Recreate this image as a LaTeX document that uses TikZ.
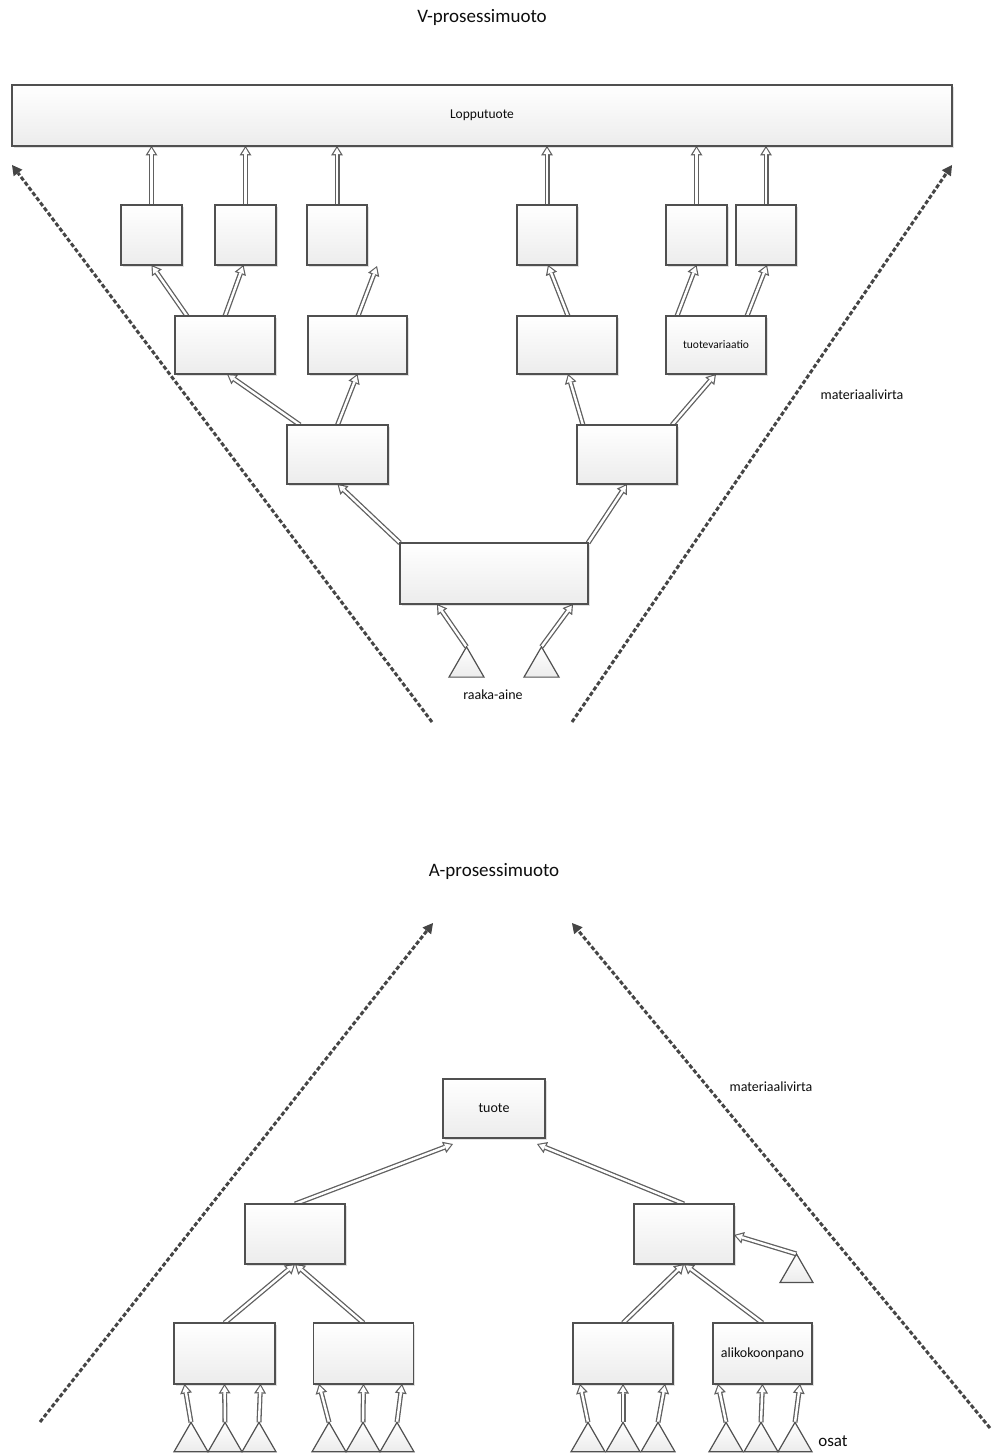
\documentclass[tikz,border=0pt]{standalone}
\usepackage{fontspec}
\setmainfont{Carlito}
\usetikzlibrary{arrows.meta,shapes.geometric,shadows,backgrounds}
\definecolor{edgegray}{HTML}{505050}
\definecolor{linkgray}{HTML}{606060}
\definecolor{flowgray}{HTML}{454545}
\definecolor{fillbot}{HTML}{ECECEC}
\definecolor{txt}{HTML}{0D0D0D}
\tikzset{
  box/.style 2 args={draw=edgegray, line width=1.4pt, top color=white, bottom color=fillbot,
    minimum width=#1pt, minimum height=#2pt, inner sep=0pt, outer sep=0pt,
    drop shadow={shadow xshift=1.8pt, shadow yshift=-1.8pt, fill=black, opacity=0.12},
    font=\fontsize{14}{16}\selectfont, text=txt},
  src/.style={regular polygon, regular polygon sides=3, minimum size=#1pt,
    draw=edgegray, line width=1.2pt, top color=white, bottom color=fillbot,
    inner sep=0pt, outer sep=0pt},
  heading/.style={font=\fontsize{19}{22}\selectfont, text=txt, inner sep=0pt},
  lbl/.style={font=\fontsize{14}{16}\selectfont, text=txt, inner sep=0pt},
  link/.style={draw=linkgray, line width=5pt,
    -{Triangle[length=9.5pt,width=12pt,line width=0pt]},
    postaction={draw=white, line width=2.4pt,
      -{Triangle[length=6.2pt,width=7.4pt,line width=0pt]}, shorten >=2pt}},
  flow/.style={draw=flowgray, line width=3pt, dash pattern=on 4.2pt off 2.2pt,
    -{Triangle[length=10pt,width=11pt,line width=0pt]}},
}
\begin{document}
\begin{tikzpicture}[x=1pt,y=-1pt]
\useasboundingbox (0,0) rectangle (992,1455);

% ---------------- V-shaped process ----------------
\node[heading] (vtitle) at (482,17) {V-prosessimuoto};
\node[box={940}{61}, font=\fontsize{13.5}{15}\selectfont] (lop) at (482,115.5) {Lopputuote};

\node[box={61}{60}] (r1a) at (151.5,235) {};
\node[box={61}{60}] (r1b) at (245.5,235) {};
\node[box={60}{60}] (r1c) at (337,235) {};
\node[box={60}{60}] (r1d) at (547,235) {};
\node[box={61}{60}] (r1e) at (696.5,235) {};
\node[box={60}{60}] (r1f) at (766,235) {};

\node[box={100}{58}] (r2a) at (225,345) {};
\node[box={99}{58}]  (r2b) at (357.5,345) {};
\node[box={100}{58}] (r2c) at (567,345) {};
\node[box={100}{58}, font=\fontsize{11.5}{13}\selectfont] (r2d) at (716,345) {tuotevariaatio};

\node[box={101}{59}] (r3a) at (337.5,454.5) {};
\node[box={100}{59}] (r3b) at (627,454.5) {};

\node[box={188}{61}] (r4) at (494,573.5) {};

\node[src=40.4] (tv1) at (466.5,667) {};
\node[src=40.4] (tv2) at (541.5,667) {};
\node[lbl] (raaka) at (493,695) {raaka-aine};
\node[lbl] (matv) at (862,395) {materiaalivirta};

\coordinate (vl0) at (432,722);
\coordinate (vl1) at (12,165);
\coordinate (vr0) at (572,722);
\coordinate (vr1) at (952,165);
\draw[flow] (vl0) -- (vl1);
\draw[flow] (vr0) -- (vr1);

\begin{scope}[on background layer]
  \draw[link] (r1a.north) -- (r1a.north |- lop.south);
  \draw[link] (r1b.north) -- (r1b.north |- lop.south);
  \draw[link] (r1c.north) -- (r1c.north |- lop.south);
  \draw[link] (r1d.north) -- (r1d.north |- lop.south);
  \draw[link] (r1e.north) -- (r1e.north |- lop.south);
  \draw[link] (r1f.north) -- (r1f.north |- lop.south);

  \draw[link] ([xshift=12pt]r2a.north west) -- (r1a.south);
  \draw[link] (r2a.north) -- ([xshift=-2pt]r1b.south);
  \draw[link] ([xshift=0.5pt]r2b.north) -- ([xshift=10pt,yshift=-1pt]r1c.south east);
  \draw[link] ([xshift=1pt]r2c.north) -- ([xshift=1pt]r1d.south);
  \draw[link] ([xshift=11pt]r2d.north west) -- (r1e.south);
  \draw[link] ([xshift=-19pt]r2d.north east) -- ([xshift=1pt]r1f.south);

  \draw[link] ([xshift=13pt]r3a.north west) -- ([xshift=2pt]r2a.south);
  \draw[link] (r3a.north) -- (r2b.south);
  \draw[link] ([xshift=6pt]r3b.north west) -- ([xshift=1pt]r2c.south);
  \draw[link] ([xshift=-5pt]r3b.north east) -- (r2d.south);

  \draw[link] (r4.north west) -- (r3a.south);
  \draw[link] (r4.north east) -- (r3b.south);

  \draw[link] (tv1.corner 1) -- ([xshift=37pt]r4.south west);
  \draw[link] (tv2.corner 1) -- ([xshift=-15pt]r4.south east);
\end{scope}

% ---------------- A-shaped process ----------------
\node[heading] (atitle) at (494,871) {A-prosessimuoto};
\node[lbl] (mata) at (771,1087) {materiaalivirta};

\node[box={102}{59}] (tuote) at (494,1108.5) {tuote};
\node[box={100}{60}] (mL) at (295,1234) {};
\node[box={100}{60}] (mR) at (684,1234) {};
\node[src=38.1] (ts) at (796.5,1273) {};

\node[box={101}{61}] (bA) at (224.5,1353.5) {};
\node[box={100}{61}] (bB) at (363.5,1353.5) {};
\node[box={100}{61}] (bC) at (623,1353.5) {};
\node[box={99}{61}]  (bD) at (762.5,1353.5) {alikokoonpano};

\foreach \n/\x in {a1/191,a2/225,a3/259,b1/329,b2/363,b3/397,
                   c1/588,c2/623,c3/658,d1/726,d2/761,d3/795}
  \node[src=39.3] (t\n) at (\x,1442) {};
\node[font=\fontsize{17}{19}\selectfont, text=txt, inner sep=0pt] (osat) at (833,1441) {osat};

\coordinate (al0) at (40,1422);
\coordinate (al1) at (433,923);
\coordinate (ar0) at (990,1428);
\coordinate (ar1) at (572,923);
\draw[flow] (al0) -- (al1);
\draw[flow] (ar0) -- (ar1);

\begin{scope}[on background layer]
  \draw[link] (mL.north) -- ([xshift=10pt,yshift=-6pt]tuote.south west);
  \draw[link] (mR.north) -- ([xshift=-8pt,yshift=-6pt]tuote.south east);
  \draw[link] (ts.corner 1) -- ([yshift=-1pt]mR.east);

  \draw[link] (bA.north) -- (mL.south);
  \draw[link] (bB.north) -- (mL.south);
  \draw[link] (bC.north) -- (mR.south);
  \draw[link] (bD.north) -- (mR.south);

  \draw[link] (ta1.corner 1) -- ([xshift=-40pt]bA.south);
  \draw[link] (ta2.corner 1) -- (bA.south);
  \draw[link] (ta3.corner 1) -- ([xshift=36pt]bA.south);
  \draw[link] (tb1.corner 1) -- ([xshift=-44.5pt]bB.south);
  \draw[link] (tb2.corner 1) -- (bB.south);
  \draw[link] (tb3.corner 1) -- ([xshift=38.5pt]bB.south);
  \draw[link] (tc1.corner 1) -- ([xshift=-43pt]bC.south);
  \draw[link] (tc2.corner 1) -- (bC.south);
  \draw[link] (tc3.corner 1) -- ([xshift=42pt]bC.south);
  \draw[link] (td1.corner 1) -- ([xshift=-44.5pt]bD.south);
  \draw[link] (td2.corner 1) -- (bD.south);
  \draw[link] (td3.corner 1) -- ([xshift=37.5pt]bD.south);
\end{scope}
\end{tikzpicture}
\end{document}
